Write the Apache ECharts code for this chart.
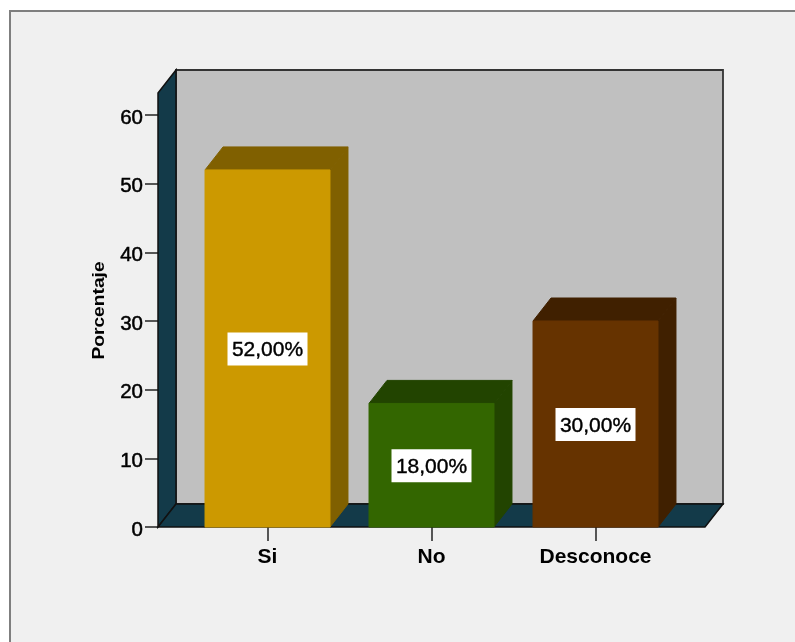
<!DOCTYPE html>
<html><head><meta charset="utf-8">
<style>html,body{margin:0;padding:0;background:#fff}#c{width:795px;height:642px}</style>
<script src="https://cdn.jsdelivr.net/npm/echarts@6/dist/echarts.min.js"></script>
</head><body><div id="c"></div>
<script>
var categories = ['Si', 'No', 'Desconoce'];
var percentages = [52, 18, 30];
var frontColors = ['#cc9900', '#336600', '#663300'];
var sideColors = ['#806000', '#224400', '#402000'];
var yTicks = [0, 10, 20, 30, 40, 50, 60];
var axisTitle = 'Porcentaje';

var DX = 18, DY = 23, WALL_OUT = 27.5, WALL_TOP = 22;
var FONT = '"Liberation Sans", Arial, sans-serif';
var chart = echarts.init(document.getElementById('c'), null, {renderer: 'canvas'});

function poly(pts, fill, stroke, lw) {
  return {type: 'polygon', shape: {points: pts},
    style: {fill: fill, stroke: stroke || fill, lineWidth: lw === undefined ? 1 : lw}};
}
function renderWalls(params, api) {
  var o = api.coord([0, 0]);
  var band = api.size([1, 0])[0];
  var t = api.coord([0, 60]);
  var l = o[0] - band / 2 - WALL_OUT;
  var r = o[0] + band * 2.5 + WALL_OUT;
  var b = o[1], top = t[1] - WALL_TOP;
  var ink = '#111';
  return {type: 'group', children: [
    poly([[l + DX, top - DY], [r + DX, top - DY], [r + DX, b - DY], [l + DX, b - DY]], '#c0c0c0', '#333', 1.8),
    poly([[l, top], [l + DX, top - DY], [l + DX, b - DY], [l, b]], '#133a49', ink, 1.5),
    poly([[l, b], [l + DX, b - DY], [r + DX, b - DY], [r, b]], '#133a49', ink, 1.5)
  ]};
}
function renderBars(params, api) {
  var i = api.value(0), v = api.value(1);
  var c = api.coord([i, v]), base = api.coord([i, 0]);
  var w = api.size([1, 0])[0] * 0.762;
  var x0 = c[0] - w / 2, x1 = c[0] + w / 2, yt = c[1], yb = base[1];
  var mid = (yt + yb) / 2;
  var side = sideColors[i], front = frontColors[i];
  return {type: 'group', children: [
    poly([[x0, yt], [x0 + DX, yt - DY], [x1 + DX, yt - DY], [x1, yt]], side),
    poly([[x1, yt], [x1 + DX, yt - DY], [x1 + DX, yb - DY], [x1, yb]], side),
    {type: 'rect', shape: {x: x0, y: yt, width: w, height: yb - yt}, style: {fill: front, stroke: front, lineWidth: 1}},
    {type: 'rect', shape: {x: c[0] - 40, y: mid - 16, width: 80, height: 33}, style: {fill: '#fff'}},
    {type: 'text', x: c[0], y: mid + 2, style: {
      text: v.toFixed(2).replace('.', ',') + '%', fill: '#000', stroke: '#000', lineWidth: 0.4,
      font: '21px ' + FONT, align: 'center', verticalAlign: 'middle'
    }}
  ]};
}

chart.setOption({
  animation: false,
  backgroundColor: '#fff',
  graphic: [
    {type: 'rect', z: -10, shape: {x: 10, y: 11, width: 800, height: 650},
      style: {fill: '#f0f0f0', stroke: '#7f7f7f', lineWidth: 2}},
    {type: 'text', z: 5, x: 99, y: 310.5, rotation: Math.PI / 2, scaleX: 1.13,
      style: {text: axisTitle, fill: '#000', font: 'bold 17px ' + FONT, align: 'center', verticalAlign: 'middle'}}
  ],
  grid: {left: 185.5, right: 117.5, top: 115, bottom: 115, containLabel: false},
  xAxis: {type: 'category', data: categories,
    axisLine: {show: false},
    axisTick: {show: true, alignWithLabel: true, length: 14, lineStyle: {color: '#444', width: 1.8}},
    axisLabel: {color: '#000', fontFamily: FONT, fontSize: 21, margin: 20, fontWeight: 'bold'}},
  yAxis: {type: 'value', min: yTicks[0], max: yTicks[yTicks.length - 1], interval: 10, offset: 27.5,
    splitLine: {show: false},
    axisLine: {show: false},
    axisTick: {show: true, length: 13, lineStyle: {color: '#444', width: 1.8}},
    axisLabel: {color: '#000', fontFamily: FONT, fontSize: 20.5, margin: 15, verticalAlign: 'top', lineHeight: 6, textBorderColor: '#000', textBorderWidth: 0.5}},
  series: [
    {type: 'custom', z: 1, silent: true, clip: false, renderItem: renderWalls, data: [[0, 0]]},
    {type: 'custom', z: 2, clip: false, renderItem: renderBars,
      data: percentages.map(function (v, i) { return [i, v]; })}
  ]
});
</script></body></html>
